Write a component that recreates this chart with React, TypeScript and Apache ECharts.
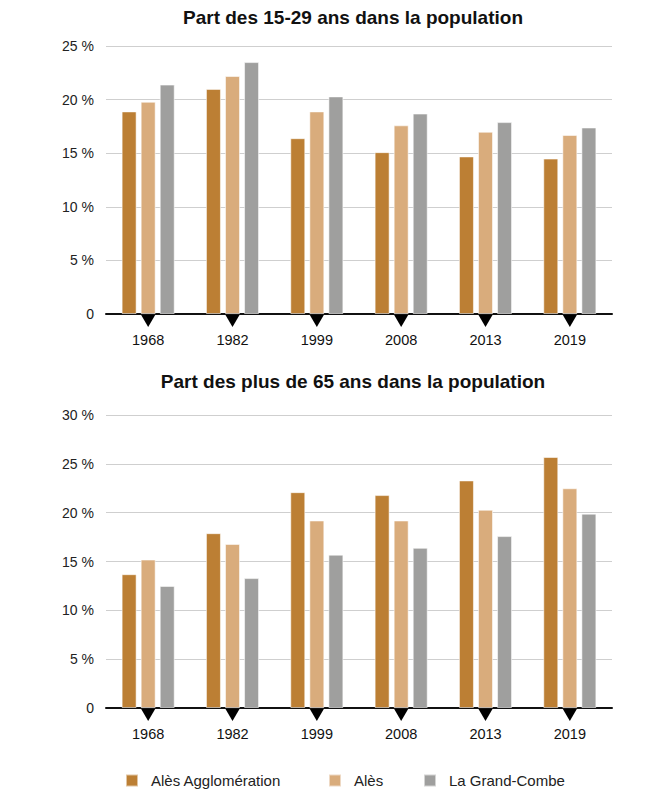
import React, { useEffect, useRef } from "react";
import * as echarts from "echarts";

const years = ["1968", "1982", "1999", "2008", "2013", "2019"];
const seriesNames = ["Alès Agglomération", "Alès", "La Grand-Combe"];
const colors = ["#BC7F34", "#D9AC7C", "#9F9F9E"];

// Part des 15-29 ans (%)
const young_agglo = [18.9, 21.0, 16.4, 15.1, 14.7, 14.5];
const young_ales = [19.8, 22.2, 18.9, 17.6, 17.0, 16.7];
const young_lgc = [21.4, 23.5, 20.3, 18.7, 17.9, 17.4];

// Part des plus de 65 ans (%)
const old_agglo = [13.7, 17.9, 22.1, 21.8, 23.3, 25.7];
const old_ales = [15.2, 16.8, 19.2, 19.2, 20.3, 22.5];
const old_lgc = [12.5, 13.3, 15.7, 16.4, 17.6, 19.9];

const titles = [
  "Part des 15-29 ans dans la population",
  "Part des plus de 65 ans dans la population",
];
const yMax = [25, 30];

export default function App() {
  const ref = useRef<HTMLDivElement>(null);
  useEffect(() => {
    if (!ref.current) return;
    const chart = echarts.init(ref.current, null, { renderer: "svg" });
    const groups = [
      [young_agglo, young_ales, young_lgc],
      [old_agglo, old_ales, old_lgc],
    ];
    const grids = [
      { left: 106, right: 53, top: 46, height: 268 },
      { left: 106, right: 53, top: 415, height: 293 },
    ];
    const xAxes = grids.map((_, i) => ({
      type: "category",
      gridIndex: i,
      data: years,
      axisLine: { show: true, lineStyle: { color: "#111", width: 2 } },
      axisTick: { show: false },
      axisLabel: {
        margin: 18,
        fontSize: 14.5,
        color: "#111",
        fontFamily: "Liberation Sans Narrow, Arial Narrow, sans-serif",
      },
    }));
    const yAxes = grids.map((_, i) => ({
      type: "value",
      gridIndex: i,
      min: 0,
      max: yMax[i],
      interval: 5,
      axisLine: { show: false },
      axisTick: { show: false },
      splitLine: { lineStyle: { color: "#cfcfcf", width: 1 } },
      axisLabel: {
        margin: 12,
        fontSize: 14,
        color: "#222",
        fontFamily: "Liberation Sans, Arial, sans-serif",
        formatter: (v: number) => (v === 0 ? "0" : v + " %"),
      },
    }));
    const series: any[] = [];
    groups.forEach((g, gi) => {
      g.forEach((vals, si) => {
        series.push({
          type: "bar",
          name: seriesNames[si],
          xAxisIndex: gi,
          yAxisIndex: gi,
          data: vals,
          barWidth: 15,
          barGap: "27%",
          itemStyle: {
            color: colors[si],
            borderColor: "rgba(255,255,255,0.55)",
            borderWidth: 1,
          },
        });
      });
      series.push({
        type: "scatter",
        name: "marker" + gi,
        xAxisIndex: gi,
        yAxisIndex: gi,
        data: years.map(() => 0),
        symbol: "triangle",
        symbolRotate: 180,
        symbolSize: [14, 12],
        symbolOffset: [0, 7],
        clip: false,
        z: 5,
        itemStyle: { color: "#000", opacity: 1 },
        silent: true,
      });
    });
    const legendLefts = [125, 328, 423];
    chart.setOption({
      animation: false,
      grid: grids,
      xAxis: xAxes,
      yAxis: yAxes,
      series,
      legend: seriesNames.map((n, i) => ({
        data: [n],
        left: legendLefts[i],
        top: 773,
        padding: 0,
        itemWidth: 12,
        itemHeight: 12,
        icon: "rect",
        itemGap: 0,
        textStyle: {
          fontSize: 15,
          color: "#222",
          fontFamily: "Liberation Sans, Arial, sans-serif",
          padding: [0, 0, 0, 8],
        },
        selectedMode: false,
      })),
      graphic: titles.map((t, i) => ({
        type: "text",
        x: 353,
        y: i === 0 ? 17 : 381,
        style: {
          text: t,
          fontSize: 19,
          fontWeight: "bold",
          fill: "#111",
          fontFamily: "Liberation Sans, Arial, sans-serif",
          textAlign: "center",
          textVerticalAlign: "middle",
        },
      })),
    });
    return () => chart.dispose();
  }, []);
  return (
    <div
      ref={ref}
      style={{ position: "fixed", left: 0, top: 0, width: 665, height: 800, background: "#fff" }}
    />
  );
}
